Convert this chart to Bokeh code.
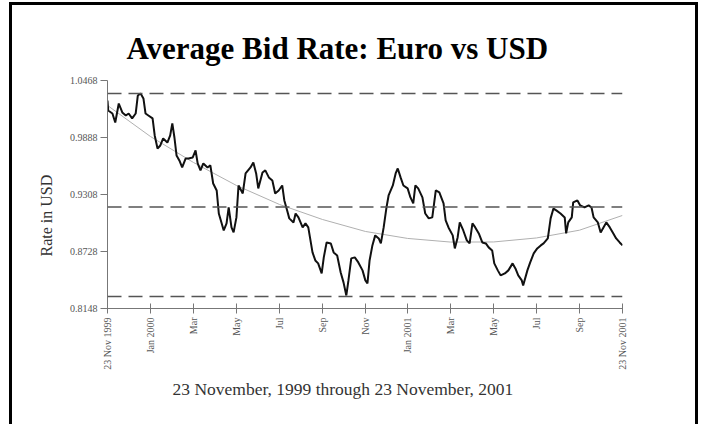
import math
from bokeh.plotting import figure
from bokeh.models import FixedTicker, PrintfTickFormatter, Span, Title, ColumnDataSource
from bokeh.embed import file_html
from bokeh.resources import INLINE

# ---- data (days since 23 Nov 1999, rate in USD) ----
days = [0, 1, 7, 11, 16, 21, 26, 30, 35, 40, 43, 47, 51, 54, 58, 64, 67, 71, 75, 79,
        85, 89, 92, 95, 98, 102, 106, 111, 115, 121, 125, 128, 132, 136, 142, 146, 150, 155, 158, 165,
        169, 172, 176, 179, 183, 186, 192, 196, 203, 207, 211, 214, 220, 224, 229, 234, 238, 243, 248, 251,
        255, 258, 264, 267, 271, 277, 281, 285, 291, 295, 299, 304, 307, 311, 317, 321, 326, 331, 335, 339,
        342, 346, 351, 356, 362, 366, 369, 372, 376, 380, 385, 388, 392, 396, 399, 405, 409, 412, 416, 420,
        426, 430, 434, 437, 441, 447, 451, 456, 461, 466, 471, 477, 480, 484, 490, 493, 497, 500, 505, 510,
        514, 518, 522, 527, 532, 537, 541, 546, 549, 554, 558, 564, 569, 575, 579, 583, 588, 590, 596, 600,
        605, 610, 615, 619, 625, 629, 633, 637, 643, 649, 651, 654, 659, 661, 667, 671, 677, 683, 687, 690,
        696, 700, 704, 708, 713, 718, 722, 727, 731]
rate = [1.0265, 1.0163, 1.0132, 1.0041, 1.0234, 1.0143, 1.0112, 1.0132, 1.0082, 1.0132, 1.0315, 1.0336, 1.0285, 1.0132, 1.0112, 1.0082, 0.9909, 0.9776, 0.9807, 0.9878,
        0.9837, 0.9909, 1.0031, 0.9888, 0.9705, 0.9654, 0.9583, 0.9675, 0.9675, 0.9685, 0.9756, 0.9624, 0.9553, 0.9624, 0.9583, 0.9604, 0.9420, 0.9349, 0.9115, 0.8942,
        0.9014, 0.9176, 0.8973, 0.8922, 0.9075, 0.9400, 0.9319, 0.9522, 0.9583, 0.9634, 0.9522, 0.9370, 0.9532, 0.9553, 0.9482, 0.9451, 0.9319, 0.9349, 0.9400, 0.9248,
        0.9146, 0.9065, 0.9024, 0.9115, 0.9075, 0.8973, 0.9014, 0.8973, 0.8719, 0.8637, 0.8607, 0.8505, 0.8668, 0.8820, 0.8810, 0.8719, 0.8688, 0.8515, 0.8414, 0.8281,
        0.8434, 0.8658, 0.8668, 0.8617, 0.8536, 0.8434, 0.8404, 0.8637, 0.8790, 0.8892, 0.8861, 0.8810, 0.8973, 0.9176, 0.9298, 0.9400, 0.9522, 0.9573, 0.9482, 0.9400,
        0.9370, 0.9278, 0.9217, 0.9400, 0.9370, 0.9278, 0.9115, 0.9065, 0.9075, 0.9349, 0.9329, 0.9217, 0.9044, 0.8973, 0.8892, 0.8759, 0.8871, 0.9024, 0.8942, 0.8841,
        0.8810, 0.9014, 0.8973, 0.8912, 0.8820, 0.8810, 0.8770, 0.8739, 0.8607, 0.8536, 0.8485, 0.8505, 0.8536, 0.8607, 0.8556, 0.8485, 0.8434, 0.8383, 0.8536, 0.8617,
        0.8709, 0.8759, 0.8790, 0.8810, 0.8861, 0.9065, 0.9166, 0.9146, 0.9115, 0.9075, 0.8912, 0.9024, 0.9075, 0.9227, 0.9248, 0.9197, 0.9176, 0.9197, 0.9176, 0.9075,
        0.9024, 0.8922, 0.8973, 0.9024, 0.8973, 0.8912, 0.8861, 0.8820, 0.8790]

tick_days = [0, 61, 122, 183, 244, 305, 366, 426, 487, 548, 609, 670, 731]
tick_labels = ["23 Nov 1999", "Jan 2000", "Mar", "May", "Jul", "Sep", "Nov",
               "Jan 2001", "Mar", "May", "Jul", "Sep", "23 Nov 2001"]
trend = [1.0214, 0.9898, 0.9634, 0.9400, 0.9207, 0.9054, 0.8932,
         0.8861, 0.8824, 0.8825, 0.8866, 0.8945, 0.9095]
y_ticks = [0.8148, 0.8728, 0.9308, 0.9888, 1.0468]
ref_levels = [1.0336, 0.9180, 0.8270]   # max, mean, min lines

title_text = "Average Bid Rate:  Euro vs USD"
y_title = "Rate in USD"
x_title = "23 November, 1999  through  23 November, 2001"

SERIF = "Liberation Serif"

p = figure(width=689, height=422, output_backend="svg", toolbar_location=None,
           x_range=(0, 731), y_range=(y_ticks[0], y_ticks[-1]),
           min_border_left=95, min_border_right=79, min_border_top=75, min_border_bottom=119)
p.styles = {"border-left": "3px solid #000", "border-top": "3px solid #000",
            "border-right": "3px solid #000", "margin-left": "9px", "margin-top": "2px"}
p.outline_line_color = None
p.xgrid.visible = False
p.ygrid.visible = False
p.background_fill_color = "white"
p.border_fill_color = "white"

p.title.text = title_text
p.title.text_font = SERIF
p.title.text_font_style = "bold"
p.title.text_font_size = "31px"
p.title.align = "left"
p.title.offset = 19
p.title.standoff = 29
p.title.text_color = "#000000"

p.add_layout(Title(text=x_title, align="left", offset=65, standoff=8,
                   text_font=SERIF, text_font_size="17.5px", text_font_style="normal",
                   text_color="#333333"), "below")
p.add_layout(Title(text=y_title, align="left", offset=52, standoff=24,
                   text_font=SERIF, text_font_size="16px", text_font_style="normal",
                   text_color="#333333"), "left")

for lvl in ref_levels:
    p.add_layout(Span(location=lvl, dimension="width", line_color="#555555",
                      line_width=1.5, line_dash="14 7"))

p.line(tick_days, trend, line_color="#b0b0b0", line_width=1)
src = ColumnDataSource(dict(d=days, r=rate))
p.line("d", "r", source=src, line_color="#111111", line_width=2)

# axes
p.xaxis.ticker = FixedTicker(ticks=tick_days)
p.xaxis.major_label_overrides = {d: lab for d, lab in zip(tick_days, tick_labels)}
p.xaxis.major_label_orientation = math.pi / 2
p.yaxis.ticker = FixedTicker(ticks=y_ticks)
p.yaxis.formatter = PrintfTickFormatter(format="%.4f")
for ax in (p.xaxis[0], p.yaxis[0]):
    ax.axis_line_color = "#777777"
    ax.major_tick_line_color = "#777777"
    ax.minor_tick_line_color = None
    ax.major_label_text_font = SERIF
    ax.major_label_text_font_size = "10px"
    ax.major_label_text_color = "#555555"
p.xaxis.major_tick_in = 5
p.xaxis.major_tick_out = 5
p.yaxis.major_tick_in = 0
p.yaxis.major_tick_out = 7
p.xaxis.major_label_standoff = 4
p.yaxis.major_label_standoff = 3

open("out.html", "w").write(file_html(p, INLINE))
